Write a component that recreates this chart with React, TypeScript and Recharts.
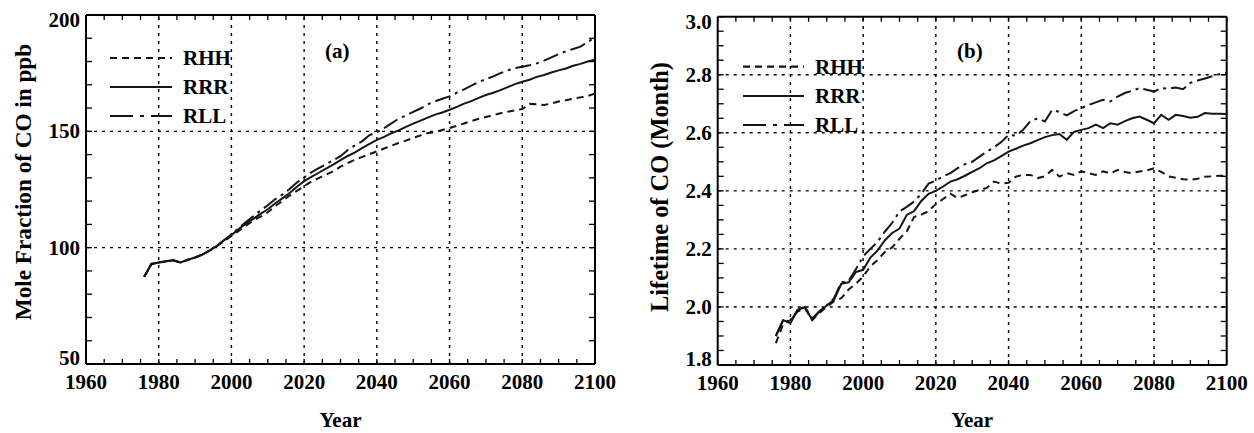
import React from 'react';
import { LineChart, Line, XAxis, YAxis, ReferenceLine, Legend } from 'recharts';

// ---------- data ----------
const years = [
  1976, 1978, 1980, 1982, 1984, 1986, 1988, 1990, 1992, 1994, 1996, 1998,
  2000, 2002, 2004, 2006, 2008, 2010, 2012, 2014, 2016, 2018, 2020, 2022,
  2024, 2026, 2028, 2030, 2032, 2034, 2036, 2038, 2040, 2042, 2044, 2046,
  2048, 2050, 2052, 2054, 2056, 2058, 2060, 2062, 2064, 2066, 2068, 2070,
  2072, 2074, 2076, 2078, 2080, 2082, 2084, 2086, 2088, 2090, 2092, 2094,
  2096, 2098, 2100,
];

const seriesNames = ['RHH', 'RRR', 'RLL'];

// (a) Mole fraction of CO in ppb
const coRHH = [
  87.5, 93.0, 93.6, 94.2, 94.6, 93.6, 94.8, 95.8, 97.0, 98.7, 100.6, 102.8,
  105.0, 107.2, 109.4, 111.6, 113.3, 115.2, 117.8, 120.0, 122.4, 124.4, 126.4, 128.4,
  129.9, 131.4, 132.8, 134.8, 136.4, 137.8, 139.0, 140.2, 141.4, 142.6, 143.8, 145.0,
  146.0, 147.2, 148.2, 149.3, 149.6, 150.6, 151.4, 152.4, 153.4, 154.4, 155.4, 156.2,
  157.0, 157.8, 158.4, 159.0, 159.6, 161.8, 161.6, 161.3, 162.0, 162.8, 163.4, 164.0,
  164.6, 165.2, 166.2,
];
const coRRR = [
  87.5, 93.0, 93.6, 94.2, 94.6, 93.6, 94.8, 95.8, 97.0, 98.8, 100.8, 103.2,
  105.4, 108.0, 110.3, 112.4, 114.5, 116.5, 119.0, 121.2, 123.5, 126.2, 128.6, 130.4,
  132.2, 134.0, 135.7, 137.6, 139.4, 141.0, 142.9, 144.6, 146.3, 147.6, 149.2, 150.4,
  151.9, 153.3, 154.6, 155.9, 157.2, 158.1, 159.3, 160.5, 161.9, 163.0, 164.4, 165.6,
  166.6, 167.7, 169.0, 170.3, 171.3, 172.2, 173.4, 174.2, 175.3, 176.2, 177.0, 178.2,
  179.0, 180.0, 180.8,
];
const coRLL = [
  87.5, 93.0, 93.6, 94.2, 94.6, 93.6, 94.8, 95.8, 97.0, 98.8, 100.9, 103.3,
  105.6, 108.4, 111.0, 113.5, 116.0, 118.2, 120.8, 122.8, 125.2, 128.0, 130.2, 132.4,
  134.2, 135.8, 137.6, 139.3, 142.0, 144.0, 145.8, 148.4, 149.6, 151.4, 153.4, 155.4,
  156.8, 158.4, 159.8, 161.6, 162.9, 164.0, 165.0, 166.6, 168.0, 169.6, 171.2, 172.4,
  173.6, 175.0, 176.2, 177.2, 177.8, 178.4, 179.2, 180.4, 181.8, 183.2, 184.4, 185.4,
  186.4, 188.4, 190.4,
];

// (b) Lifetime of CO in months
const ltRHH = [
  1.875, 1.94, 1.955, 1.985, 1.995, 1.955, 1.98, 2.0, 2.02, 2.03, 2.06, 2.08,
  2.105, 2.14, 2.162, 2.19, 2.205, 2.235, 2.26, 2.31, 2.318, 2.33, 2.355, 2.372,
  2.39, 2.375, 2.385, 2.395, 2.403, 2.41, 2.432, 2.425, 2.428, 2.449, 2.455, 2.455,
  2.444, 2.45, 2.472, 2.449, 2.461, 2.455, 2.467, 2.461, 2.455, 2.467, 2.46, 2.472,
  2.465, 2.461, 2.467, 2.47, 2.478, 2.465, 2.45, 2.445, 2.44, 2.438, 2.442, 2.449,
  2.45, 2.452, 2.452,
];
const ltRRR = [
  1.9, 1.955, 1.944, 1.99, 2.0, 1.955, 1.985, 2.005, 2.025, 2.08, 2.085, 2.12,
  2.128, 2.17, 2.195, 2.23, 2.255, 2.27, 2.317, 2.33, 2.365, 2.39, 2.4, 2.415,
  2.432, 2.44, 2.452, 2.465, 2.478, 2.495, 2.505, 2.52, 2.535, 2.545, 2.556, 2.564,
  2.575, 2.585, 2.592, 2.596, 2.576, 2.603, 2.61, 2.616, 2.628, 2.616, 2.633, 2.628,
  2.64, 2.65, 2.656, 2.645, 2.633, 2.662, 2.645, 2.662, 2.658, 2.652, 2.655, 2.668,
  2.666, 2.666, 2.665,
];
const ltRLL = [
  1.9, 1.955, 1.95, 1.99, 2.0, 1.96, 1.985, 2.005, 2.03, 2.085, 2.09, 2.13,
  2.174, 2.2, 2.225, 2.26, 2.29, 2.329, 2.345, 2.363, 2.39, 2.425, 2.435, 2.45,
  2.461, 2.478, 2.492, 2.5, 2.518, 2.535, 2.55, 2.568, 2.593, 2.59, 2.61, 2.64,
  2.65, 2.639, 2.679, 2.672, 2.66, 2.675, 2.685, 2.696, 2.705, 2.714, 2.708, 2.725,
  2.737, 2.745, 2.754, 2.748, 2.742, 2.754, 2.752, 2.756, 2.75, 2.772, 2.78, 2.787,
  2.795, 2.802, 2.806,
];

// ticks
const xMinorTicks = [
  1960, 1965, 1970, 1975, 1980, 1985, 1990, 1995, 2000, 2005, 2010, 2015, 2020,
  2025, 2030, 2035, 2040, 2045, 2050, 2055, 2060, 2065, 2070, 2075, 2080, 2085,
  2090, 2095, 2100,
];
const xTickLabels = [1960, 1980, 2000, 2020, 2040, 2060, 2080, 2100];
const xGrid = [1980, 2000, 2020, 2040, 2060, 2080];

const coYMinorTicks = [50, 60, 70, 80, 90, 100, 110, 120, 130, 140, 150, 160, 170, 180, 190, 200];
const coYTickLabels = [50, 100, 150, 200];
const coYGrid = [100, 150];

const ltYMinorTicks = [
  1.8, 1.85, 1.9, 1.95, 2.0, 2.05, 2.1, 2.15, 2.2, 2.25, 2.3, 2.35, 2.4, 2.45,
  2.5, 2.55, 2.6, 2.65, 2.7, 2.75, 2.8, 2.85, 2.9, 2.95, 3.0,
];
const ltYTickLabels = [1.8, 2.0, 2.2, 2.4, 2.6, 2.8, 3.0];
const ltYGrid = [2.0, 2.2, 2.4, 2.6, 2.8];

// ---------- styling ----------
const FONT = '"Liberation Serif", "Times New Roman", Times, serif';
const INK = '#000';
const LINE_INK = '#151515';
const lineDash = ['7 5', undefined, '16 5 3 5'];
const legendDash = ['7 5', undefined, '23 7 4 7'];
const TICK_FS = 21;

const W = 627;
const H = 433;

type Geo = { l: number; t: number; r: number; b: number };

const near = (a: number, b: number) => Math.abs(a - b) < 1e-6;

const makeXTick = (g: Geo) => (props: any) => {
  const { x, payload } = props;
  const v = payload.value;
  const major = xTickLabels.some((m) => near(m, v));
  return (
    <g>
      <line x1={x} y1={g.b} x2={x} y2={g.b - 5} stroke={INK} strokeWidth={1.3} />
      <line x1={x} y1={g.t} x2={x} y2={g.t + 5} stroke={INK} strokeWidth={1.3} />
      {major && (
        <text x={x} y={g.b + 25} textAnchor="middle" fontFamily={FONT} fontWeight="bold" fontSize={TICK_FS} fill={INK}>
          {v}
        </text>
      )}
    </g>
  );
};

const makeYTick = (g: Geo, labels: number[], digits: number, min: number, max: number) => (props: any) => {
  const { y, payload } = props;
  const v = payload.value;
  const major = labels.some((m) => near(m, v));
  const shift = near(v, max) ? 5 : near(v, min) ? -6 : 0;
  return (
    <g>
      <line x1={g.l} y1={y} x2={g.l + 6} y2={y} stroke={INK} strokeWidth={1.3} />
      <line x1={g.r} y1={y} x2={g.r - 6} y2={y} stroke={INK} strokeWidth={1.3} />
      {major && (
        <text x={g.l - 6} y={y + 7 + shift} textAnchor="end" fontFamily={FONT} fontWeight="bold" fontSize={TICK_FS} fill={INK}>
          {v.toFixed(digits)}
        </text>
      )}
    </g>
  );
};

const RotLabel = ({ lx, ly, txt, fs }: any) => (
  <text
    x={lx}
    y={ly}
    transform={`rotate(-90 ${lx} ${ly})`}
    textAnchor="middle"
    fontFamily={FONT}
    fontWeight="bold"
    fontSize={fs}
    fill={INK}
  >
    {txt}
  </text>
);

const FlatLabel = ({ lx, ly, txt, fs }: any) => (
  <text x={lx} y={ly} textAnchor="middle" fontFamily={FONT} fontWeight="bold" fontSize={fs} fill={INK}>
    {txt}
  </text>
);

type LegendCfg = {
  left: number;
  top: number;
  x1: number;
  x2: number;
  tx: number;
  rows: number[];
  tag: string;
  tagX: number;
  tagY: number;
};

const makeLegend = (c: LegendCfg) => () => (
  <svg width={270} height={110} style={{ overflow: 'visible', display: 'block' }}>
    {seriesNames.map((name, i) => (
      <g key={name}>
        <line
          x1={c.x1}
          x2={c.x2}
          y1={c.rows[i]}
          y2={c.rows[i]}
          stroke={LINE_INK}
          strokeWidth={2.2}
          strokeDasharray={legendDash[i]}
        />
        <text x={c.tx} y={c.rows[i] + 7} fontFamily={FONT} fontWeight="bold" fontSize={21} fill={INK}>
          {name}
        </text>
      </g>
    ))}
    <text x={c.tagX} y={c.tagY + 5} fontFamily={FONT} fontWeight="bold" fontSize={21} fill={INK}>
      {c.tag}
    </text>
  </svg>
);

type PanelProps = {
  offsetLeft: number;
  geo: Geo;
  data: any[];
  yDomain: [number, number];
  yTicks: number[];
  yLabels: number[];
  yGrid: number[];
  digits: number;
  yTitle: string;
  yTitlePos: { x: number; y: number; fs: number };
  legend: LegendCfg;
};

function Panel(p: PanelProps) {
  const g = p.geo;
  const margin = { top: g.t, left: 0, right: W - g.r, bottom: 0 };
  return (
    <div style={{ position: 'absolute', left: p.offsetLeft, top: 0, width: W, height: H }}>
      <LineChart width={W} height={H} data={p.data} margin={margin}>
        <XAxis
          dataKey="year"
          type="number"
          domain={[1960, 2100]}
          ticks={xMinorTicks}
          interval={0}
          height={H - g.b}
          tickSize={0}
          tickMargin={0}
          tickLine={false}
          axisLine={{ stroke: INK, strokeWidth: 2 }}
          tick={makeXTick(g)}
          label={<FlatLabel lx={(g.l + g.r) / 2} ly={427} txt="Year" fs={21} />}
        />
        <YAxis
          type="number"
          domain={p.yDomain}
          ticks={p.yTicks}
          interval={0}
          width={g.l}
          tickSize={0}
          tickMargin={0}
          tickLine={false}
          axisLine={{ stroke: INK, strokeWidth: 2 }}
          tick={makeYTick(g, p.yLabels, p.digits, p.yDomain[0], p.yDomain[1])}
          label={<RotLabel lx={p.yTitlePos.x} ly={p.yTitlePos.y} txt={p.yTitle} fs={p.yTitlePos.fs} />}
        />
        {xGrid.map((v) => (
          <ReferenceLine key={`gx${v}`} x={v} stroke={INK} strokeWidth={1.4} strokeDasharray="3 5" />
        ))}
        {p.yGrid.map((v) => (
          <ReferenceLine key={`gy${v}`} y={v} stroke={INK} strokeWidth={1.4} strokeDasharray="3 5" />
        ))}
        <ReferenceLine x={2100} stroke={INK} strokeWidth={2} />
        <ReferenceLine y={p.yDomain[1]} stroke={INK} strokeWidth={2} />
        <Line type="linear" dataKey="RHH" stroke={LINE_INK} strokeWidth={2} strokeDasharray={lineDash[0]} dot={false} isAnimationActive={false} />
        <Line type="linear" dataKey="RRR" stroke={LINE_INK} strokeWidth={2} dot={false} isAnimationActive={false} />
        <Line type="linear" dataKey="RLL" stroke={LINE_INK} strokeWidth={2} strokeDasharray={lineDash[2]} dot={false} isAnimationActive={false} />
        <Legend
          layout="vertical"
          align="center"
          verticalAlign="middle"
          wrapperStyle={{ left: p.legend.left, top: p.legend.top, width: 270, height: 110 }}
          content={makeLegend(p.legend)}
        />
      </LineChart>
    </div>
  );
}

const coData = years.map((yr, i) => ({ year: yr, RHH: coRHH[i], RRR: coRRR[i], RLL: coRLL[i] }));
const ltData = years.map((yr, i) => ({ year: yr, RHH: ltRHH[i], RRR: ltRRR[i], RLL: ltRLL[i] }));

export default function App() {
  return (
    <div style={{ position: 'absolute', left: 0, top: 0, width: 1254, height: 433, background: '#fff' }}>
      <Panel
        offsetLeft={0}
        geo={{ l: 86, t: 15, r: 595, b: 364 }}
        data={coData}
        yDomain={[50, 200]}
        yTicks={coYMinorTicks}
        yLabels={coYTickLabels}
        yGrid={coYGrid}
        digits={0}
        yTitle="Mole Fraction of CO in ppb"
        yTitlePos={{ x: 31, y: 182, fs: 23.2 }}
        legend={{ left: 100, top: 35, x1: 10, x2: 72, tx: 83, rows: [23, 52, 81], tag: '(a)', tagX: 225, tagY: 18 }}
      />
      <Panel
        offsetLeft={627}
        geo={{ l: 90.7, t: 16.7, r: 599.7, b: 365 }}
        data={ltData}
        yDomain={[1.8, 3.0]}
        yTicks={ltYMinorTicks}
        yLabels={ltYTickLabels}
        yGrid={ltYGrid}
        digits={1}
        yTitle="Lifetime of CO (Month)"
        yTitlePos={{ x: 41, y: 187, fs: 24.4 }}
        legend={{ left: 106, top: 35, x1: 10, x2: 71, tx: 82, rows: [31.7, 61, 90], tag: '(b)', tagX: 224, tagY: 18 }}
      />
    </div>
  );
}
